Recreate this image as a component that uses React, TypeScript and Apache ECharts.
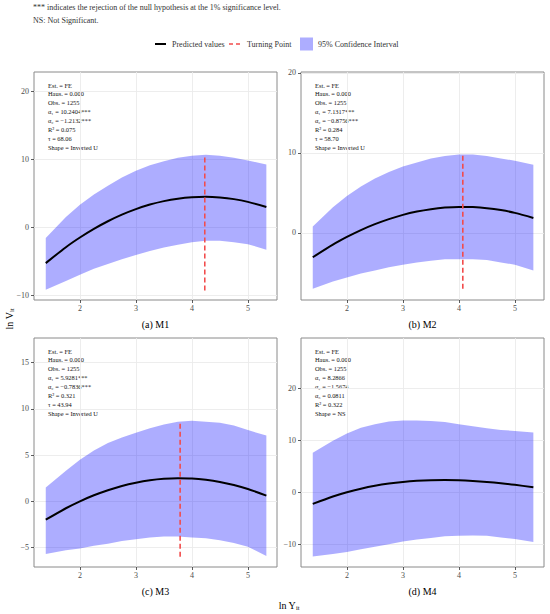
import React, { useEffect, useRef } from "react";
import * as echarts from "echarts";

// ---------- data ----------
const X = [1.39, 1.75, 2.0, 2.25, 2.5, 2.75, 3.0, 3.25, 3.5, 3.75, 4.0, 4.25, 4.5, 4.75, 5.0, 5.33];
const X_TICKS = [2, 3, 4, 5];

const M1_FIT = [-5.28, -2.94, -1.52, -0.25, 0.87, 1.84, 2.65, 3.32, 3.83, 4.19, 4.4, 4.46, 4.36, 4.12, 3.72, 2.96];
const M1_UPPER = [-1.6, 1.5, 3.3, 4.8, 6.1, 7.3, 8.3, 9.1, 9.7, 10.2, 10.5, 10.65, 10.5, 10.2, 9.8, 9.2];
const M1_LOWER = [-9.2, -7.9, -7.0, -6.1, -5.4, -4.7, -4.1, -3.5, -3.0, -2.6, -2.2, -2.0, -2.0, -2.2, -2.5, -3.3];

const M2_FIT = [-3.06, -1.48, -0.52, 0.34, 1.08, 1.71, 2.24, 2.65, 2.95, 3.15, 3.24, 3.21, 3.08, 2.84, 2.49, 1.86];
const M2_UPPER = [0.8, 3.2, 4.6, 5.8, 6.8, 7.6, 8.3, 8.8, 9.3, 9.6, 9.8, 9.8, 9.6, 9.3, 9.0, 8.5];
const M2_LOWER = [-7.0, -6.1, -5.6, -5.1, -4.7, -4.3, -4.0, -3.7, -3.5, -3.3, -3.3, -3.3, -3.4, -3.7, -4.0, -4.7];

const M3_FIT = [-1.99, -0.75, 0.0, 0.65, 1.2, 1.66, 2.01, 2.27, 2.43, 2.49, 2.46, 2.32, 2.09, 1.76, 1.33, 0.62];
const M3_UPPER = [1.5, 3.3, 4.5, 5.5, 6.3, 6.9, 7.4, 7.9, 8.3, 8.6, 8.7, 8.6, 8.5, 8.2, 7.7, 7.1];
const M3_LOWER = [-5.7, -5.3, -5.1, -4.8, -4.6, -4.3, -4.1, -3.9, -3.8, -3.8, -3.9, -4.0, -4.2, -4.5, -4.9, -5.9];

const M4_FIT = [-2.25, -0.83, -0.01, 0.67, 1.23, 1.66, 1.98, 2.2, 2.32, 2.35, 2.3, 2.17, 1.98, 1.73, 1.42, 0.96];
const M4_UPPER = [7.6, 9.9, 11.3, 12.4, 13.1, 13.6, 13.8, 13.8, 13.7, 13.5, 13.1, 12.7, 12.3, 12.0, 11.8, 11.5];
const M4_LOWER = [-12.4, -11.9, -11.5, -11.0, -10.5, -10.0, -9.5, -9.1, -8.8, -8.5, -8.4, -8.35, -8.4, -8.7, -9.0, -9.6];

const FITS = [M1_FIT, M2_FIT, M3_FIT, M4_FIT];
const UPPERS = [M1_UPPER, M2_UPPER, M3_UPPER, M4_UPPER];
const LOWERS = [M1_LOWER, M2_LOWER, M3_LOWER, M4_LOWER];

const TURNING_X = [4.23, 4.07, 3.79, null];
const TURNING_Y = [[-9.3, 10.65], [-7.0, 9.8], [-6.0, 8.7], null];

const Y_TICKS = [[-10, 0, 10, 20], [0, 10, 20], [-5, 0, 5, 10, 15], [-10, 0, 10, 20]];
const Y_STEP = [10, 10, 5, 10];
const Y_RANGE = [[-10.7, 22.8], [-8.4, 20.1], [-7.1, 17.65], [-14.4, 29.7]];
const X_RANGE = [1.18, 5.52];

const PANEL_TITLES = ["(a) M1", "(b) M2", "(c) M3", "(d) M4"];
const NOTES = [
  ["Est. = FE", "Haus. = 0.000", "Obs. = 1255", "α₁ = 10.2404***", "α₂ = −1.2132***", "R² = 0.075", "τ = 68.06", "Shape = Inverted U"],
  ["Est. = FE", "Haus. = 0.000", "Obs. = 1255", "α₁ = 7.1317***", "α₂ = −0.8756***", "R² = 0.284", "τ = 58.70", "Shape = Inverted U"],
  ["Est. = FE", "Haus. = 0.000", "Obs. = 1255", "α₁ = 5.9281***", "α₂ = −0.7836***", "R² = 0.321", "τ = 43.94", "Shape = Inverted U"],
  ["Est. = FE", "Haus. = 0.000", "Obs. = 1255", "α₁ = 8.2866", "α₂ = −1.5674", "α₃ = 0.0811", "R² = 0.322", "Shape = NS"],
];
const HEAD_NOTES = [
  "*** indicates the rejection of the null hypothesis at the 1% significance level.",
  "NS: Not Significant.",
];
const LEGEND_LABELS = ["Predicted values", "Turning Point", "95% Confidence Interval"];

// ---------- layout ----------
const FONT = "'Liberation Serif', 'Times New Roman', serif";
const GRIDS = [
  { left: 34, top: 72, width: 243, height: 228 },
  { left: 301, top: 72, width: 243, height: 228 },
  { left: 34, top: 338, width: 243, height: 229 },
  { left: 301, top: 338, width: 243, height: 229 },
];
const BAND = "rgba(0,0,255,0.32)";
const RED = "#f24c4c";

const fmt = (v: number) => (v < 0 ? "−" + Math.abs(v) : String(v));

export default function App() {
  const ref = useRef<HTMLDivElement>(null);
  useEffect(() => {
    document.body.style.margin = "0";
    if (!ref.current) return;
    const chart = echarts.init(ref.current, null, { renderer: "svg" });

    const series: any[] = [];
    GRIDS.forEach((_, i) => {
      const lower = LOWERS[i];
      const upper = UPPERS[i];
      series.push({
        type: "custom",
        name: LEGEND_LABELS[2],
        xAxisIndex: i,
        yAxisIndex: i,
        data: X.map((x, j) => [x, lower[j], upper[j]]),
        encode: { x: 0, y: [1, 2] },
        silent: true,
        clip: true,
        z: 1,
        renderItem: (params: any, api: any) => {
          if (params.dataIndex !== 0) return null;
          const top = X.map((x, j) => api.coord([x, upper[j]]));
          const bot = X.map((x, j) => api.coord([x, lower[j]])).reverse();
          return {
            type: "polygon",
            shape: { points: top.concat(bot) },
            style: { fill: BAND, stroke: null },
          };
        },
      });
      series.push({
        type: "line",
        name: LEGEND_LABELS[0],
        xAxisIndex: i,
        yAxisIndex: i,
        data: X.map((x, j) => [x, FITS[i][j]]),
        symbol: "none",
        smooth: 0.3,
        lineStyle: { color: "#000", width: 2 },
        itemStyle: { color: "#000" },
        silent: true,
        z: 3,
      });
      const tp = TURNING_X[i];
      const tr = TURNING_Y[i];
      if (tp != null && tr) {
        series.push({
          type: "line",
          name: LEGEND_LABELS[1],
          xAxisIndex: i,
          yAxisIndex: i,
          data: [[tp, tr[0]], [tp, tr[1]]],
          symbol: "none",
          lineStyle: { color: RED, width: 1.6, type: [5, 3] },
          itemStyle: { color: RED },
          silent: true,
          z: 4,
        });
      }
    });

    const graphics: any[] = [];
    const txt = (text: string, x: number, y: number, size: number, opts: any = {}) => ({
      type: "text",
      x,
      y,
      silent: true,
      ...(opts.rotation != null ? { rotation: opts.rotation } : {}),
      style: {
        text,
        fontSize: size,
        fontFamily: FONT,
        fill: opts.fill || "#1a1a1a",
        align: opts.align || "left",
        verticalAlign: opts.va || "middle",
        textAlign: opts.align || "left",
        textVerticalAlign: opts.va || "middle",
        ...(opts.lineHeight ? { lineHeight: opts.lineHeight } : {}),
        ...(opts.rich ? { rich: opts.rich } : {}),
      },
    });

    graphics.push(txt(HEAD_NOTES[0], 33, 7, 8, { fill: "#333" }));
    graphics.push(txt(HEAD_NOTES[1], 33, 20, 8, { fill: "#333" }));

    // legend
    graphics.push({ type: "line", silent: true, shape: { x1: 155, y1: 44, x2: 166, y2: 44 }, style: { stroke: "#000", lineWidth: 2 } });
    graphics.push(txt(LEGEND_LABELS[0], 172, 44, 8, { fill: "#333" }));
    graphics.push({ type: "line", silent: true, shape: { x1: 229, y1: 44, x2: 242, y2: 44 }, style: { stroke: RED, lineWidth: 1.6, lineDash: [4, 3] } });
    graphics.push(txt(LEGEND_LABELS[1], 247, 44, 8, { fill: "#333" }));
    graphics.push({ type: "rect", silent: true, shape: { x: 300, y: 37.5, width: 13, height: 13 }, style: { fill: BAND } });
    graphics.push(txt(LEGEND_LABELS[2], 318, 44, 8, { fill: "#333" }));

    GRIDS.forEach((g, i) => {
      const titleY = g.top + g.height + 24;
      graphics.push(txt(PANEL_TITLES[i], g.left + g.width / 2, titleY, 10, { align: "center", fill: "#000" }));
      graphics.push(
        txt(NOTES[i].join("\n"), g.left + 14, g.top + 8.6, 6.4, { va: "top", lineHeight: 8.9, fill: "#111" })
      );
    });

    const subRich = {
      a: { fontSize: 10, fontFamily: FONT, fill: "#000" },
      s: { fontSize: 6.5, fontFamily: FONT, fill: "#000", padding: [5, 0, 0, 0] },
    };
    graphics.push(txt("{a|ln V}{s|it}", 9, 319, 10, { align: "center", rotation: Math.PI / 2, fill: "#000", rich: subRich }));
    graphics.push(txt("{a|ln Y}{s|it}", 289, 605, 10, { align: "center", fill: "#000", rich: subRich }));

    const axisCommon = {
      axisLine: { show: false, onZero: false },
      axisTick: { show: true, length: 3, lineStyle: { color: "#333", width: 0.8 } },
      splitLine: { show: true, lineStyle: { color: "#ebebeb", width: 0.9 } },
      axisLabel: { fontSize: 8, fontFamily: FONT, color: "#4d4d4d", formatter: (v: number) => fmt(v) },
    };

    const option: any = {
      animation: false,
      backgroundColor: "#fff",
      grid: GRIDS.map((g) => ({
        ...g,
        show: true,
        borderColor: "#8a8a8a",
        borderWidth: 1,
        backgroundColor: "transparent",
        containLabel: false,
        outerBoundsMode: "none",
      })),
      xAxis: GRIDS.map((_, i) => ({
        type: "value",
        gridIndex: i,
        min: X_RANGE[0],
        max: X_RANGE[1],
        minInterval: 1,
        maxInterval: 1,
        ...axisCommon,
        axisTick: { ...axisCommon.axisTick, customValues: X_TICKS },
        axisLabel: { ...axisCommon.axisLabel, margin: 4, customValues: X_TICKS },
      })),
      yAxis: GRIDS.map((_, i) => ({
        type: "value",
        gridIndex: i,
        min: Y_RANGE[i][0],
        max: Y_RANGE[i][1],
        minInterval: Y_STEP[i],
        maxInterval: Y_STEP[i],
        ...axisCommon,
        axisTick: { ...axisCommon.axisTick, customValues: Y_TICKS[i] },
        axisLabel: { ...axisCommon.axisLabel, margin: 5, customValues: Y_TICKS[i] },
      })),
      series,
      graphic: { elements: graphics },
    };

    chart.setOption(option);
    return () => chart.dispose();
  }, []);

  return <div ref={ref} style={{ width: 550, height: 614 }} />;
}
